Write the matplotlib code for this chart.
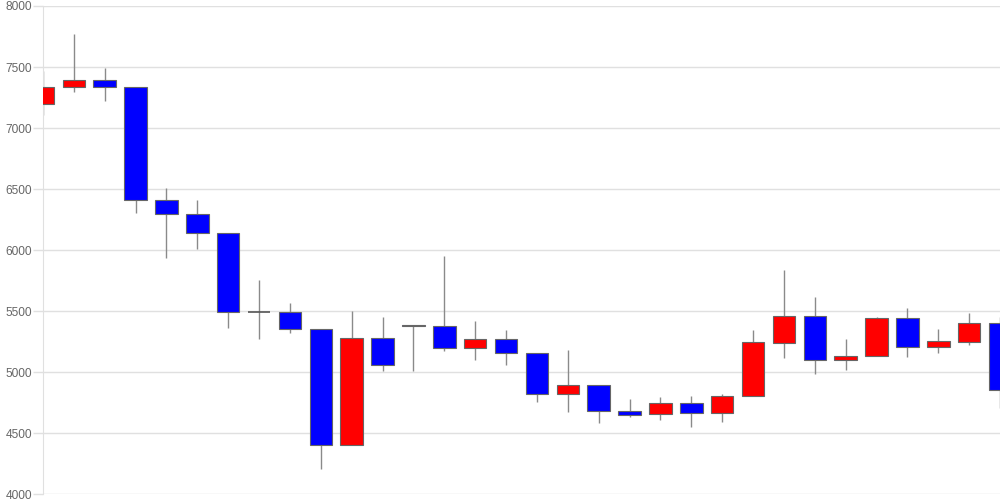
import matplotlib.pyplot as plt

plt.rcParams['font.family'] = ['Liberation Sans', 'DejaVu Sans']

# daily OHLC values
opens  = [7195, 7340, 7390, 7340, 6410, 6300, 6140, 5490, 5490, 5350,
          4400, 5280, 5390, 5380, 5195, 5270, 5155, 4820, 4895, 4685,
          4655, 4745, 4663, 4803, 5242, 5463, 5103, 5130, 5442, 5204,
          5250, 5400]
highs  = [7470, 7771, 7490, 7340, 6512, 6411, 6140, 5755, 5567, 5350,
          5502, 5452, 5390, 5952, 5422, 5346, 5155, 5182, 4895, 4781,
          4795, 4805, 4822, 5346, 5835, 5614, 5272, 5450, 5524, 5354,
          5485, 5450]
lows   = [7107, 7293, 7224, 6302, 5933, 6010, 5365, 5275, 5324, 4205,
          4400, 5013, 5013, 5171, 5098, 5057, 4754, 4674, 4584, 4636,
          4611, 4554, 4595, 4803, 5119, 4983, 5021, 5130, 5122, 5160,
          5223, 4710]
closes = [7340, 7390, 7340, 6410, 6300, 6140, 5490, 5490, 5350, 4400,
          5280, 5060, 5382, 5195, 5270, 5155, 4820, 4895, 4680, 4652,
          4745, 4663, 4805, 5245, 5463, 5103, 5133, 5442, 5204, 5253,
          5400, 4852]

fig = plt.figure(figsize=(10, 5), dpi=100)
ax = fig.add_axes([0.043, 0.0114, 0.957, 0.9766])

w = 0.73
for i in range(len(opens)):
    o, h, l, c = opens[i], highs[i], lows[i], closes[i]
    ax.vlines(i, l, h, color='#8a8a8a', linewidth=1, zorder=2)
    if c > o:
        col = 'red'
    else:
        col = 'blue'
    bottom = min(o, c)
    height = abs(c - o)
    if height == 0:
        ax.hlines(o, i - w / 2, i + w / 2, color='#555555', linewidth=1.2, zorder=3)
    else:
        ax.bar(i, height, w, bottom=bottom, color=col, edgecolor='#666666',
               linewidth=0.8, zorder=3)

ax.set_xlim(0, len(opens) - 1)
ax.set_ylim(4000, 8000)
ax.set_yticks(range(4000, 8001, 500))
ax.set_xticks([])
ax.grid(axis='y', color='#e0e0e0', linewidth=1)
ax.set_axisbelow(True)
for s in ['top', 'right', 'bottom']:
    ax.spines[s].set_visible(False)
ax.spines['left'].set_color('#e0e0e0')
ax.tick_params(axis='y', length=7.2, width=1, color='#e0e0e0', pad=0.5,
               labelsize=8.6, labelcolor='#666666')

fig.savefig('out.png')
